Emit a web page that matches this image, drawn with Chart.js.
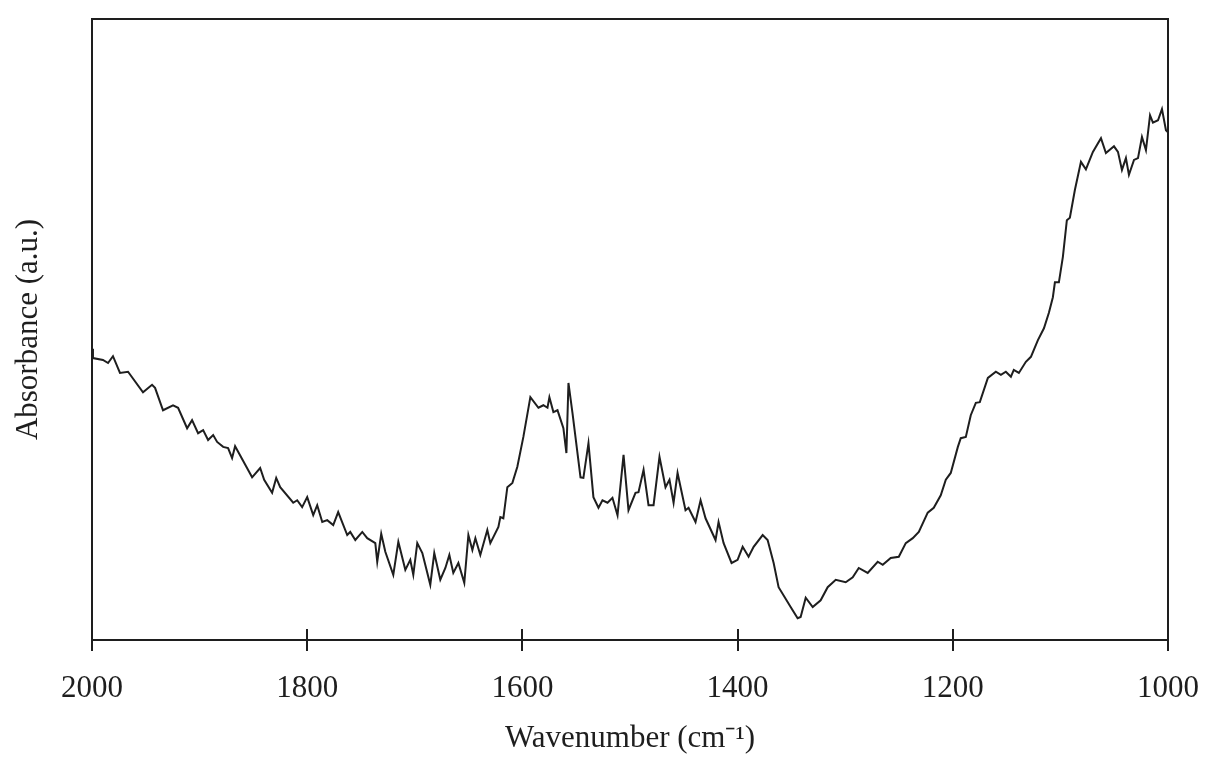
<!DOCTYPE html>
<html>
<head>
<meta charset="utf-8">
<script src="https://cdn.jsdelivr.net/npm/chart.js@4.4.0/dist/chart.umd.min.js"></script>
<style>
  html, body { margin:0; padding:0; background:#fff; }
  #wrap { width:1209px; height:757px; position:relative; }
</style>
</head>
<body>
<div id="wrap"><canvas id="chart"></canvas></div>
<script>
// FTIR spectrum, values (absorbance in arbitrary units, 0-100)
const wavenumber = [
  2000,1999.1,1989.8,1985.1,1980.5,1974.0,1966.5,1952.6,1944.2,1941.4,
  1934.0,1924.7,1920.0,1911.6,1907.0,1901.4,1896.7,1892.1,1887.4,1883.7,
  1878.1,1873.5,1869.8,1867.0,1851.2,1843.7,1840.0,1832.6,1828.8,1825.1,
  1813.0,1809.3,1804.7,1800.0,1794.4,1790.7,1786.0,1781.4,1775.8,1771.2,
  1762.8,1760.0,1755.3,1748.8,1744.2,1736.7,1734.9,1731.2,1727.4,1720.0,
  1715.3,1708.8,1704.2,1701.4,1697.7,1693.0,1685.6,1681.9,1676.3,1671.6,
  1667.9,1664.2,1659.5,1654.0,1650.2,1646.5,1643.7,1639.1,1632.6,1629.8,
  1622.3,1620.5,1617.7,1614.0,1609.3,1604.7,1599.1,1592.6,1585.1,1580.5,
  1576.7,1574.9,1571.2,1567.4,1561.9,1559.1,1557.2,1553.5,1546.0,1543.3,
  1538.6,1534.0,1529.3,1525.6,1520.9,1516.3,1511.6,1506.0,1501.4,1494.9,
  1492.1,1487.4,1482.8,1478.1,1472.6,1467.0,1463.3,1459.5,1455.8,1448.4,
  1445.6,1439.1,1434.4,1429.8,1420.5,1417.7,1413.0,1405.6,1400.0,1395.3,
  1389.8,1385.1,1376.7,1372.1,1366.5,1361.9,1350.7,1344.2,1341.4,1336.7,
  1330.2,1322.8,1316.3,1308.8,1299.5,1293.0,1287.4,1279.1,1269.8,1265.1,
  1257.7,1250.2,1243.7,1237.2,1231.6,1223.3,1217.7,1211.2,1206.5,1201.9,
  1195.3,1192.6,1187.9,1183.3,1178.6,1174.9,1167.4,1160.0,1155.3,1150.7,
  1146.0,1143.3,1138.6,1132.1,1127.4,1120.9,1115.3,1110.7,1107.0,1105.1,
  1101.4,1097.7,1094.0,1091.2,1086.5,1080.9,1076.3,1069.8,1062.3,1057.7,
  1050.2,1046.5,1042.8,1039.1,1036.3,1031.6,1027.9,1024.2,1020.5,1016.7,
  1014.0,1009.3,1005.6,1001.9,999.1,994.4
];
const absorbance = [
  46.9,45.4,45.1,44.6,45.7,43.0,43.2,39.9,41.1,40.6,
  37.0,37.8,37.4,34.1,35.4,33.3,33.8,32.2,33.0,31.9,
  31.1,30.9,29.3,31.2,26.2,27.7,25.8,23.7,26.1,24.6,
  22.1,22.5,21.4,23.0,20.1,21.7,19.0,19.3,18.5,20.6,
  16.9,17.4,16.1,17.4,16.4,15.6,12.6,17.1,14.2,10.5,
  15.8,11.3,12.9,10.5,15.6,14.0,8.9,14.0,9.7,11.6,
  13.7,10.8,12.4,9.2,16.9,14.5,16.4,13.7,17.7,15.6,
  18.2,19.8,19.6,24.6,25.3,27.9,32.7,39.1,37.4,37.8,
  37.4,39.1,36.7,37.0,34.1,30.1,41.4,36.6,26.2,26.1,
  31.7,23.0,21.3,22.5,22.1,22.9,20.1,29.8,20.9,23.7,
  23.8,27.4,21.7,21.7,29.5,24.6,25.8,22.1,26.9,20.9,
  21.3,19.0,22.5,19.6,16.1,19.0,15.6,12.4,12.9,15.0,
  13.4,15.0,16.9,16.1,12.4,8.5,5.3,3.5,3.7,6.8,
  5.3,6.4,8.5,9.7,9.3,10.1,11.6,10.8,12.6,12.1,
  13.2,13.4,15.6,16.4,17.4,20.5,21.3,23.3,25.8,26.9,
  31.1,32.5,32.7,36.2,38.2,38.3,42.2,43.2,42.7,43.2,
  42.4,43.5,43.0,44.8,45.6,48.3,50.2,52.7,55.2,57.6,
  57.6,61.7,67.6,68.0,72.5,77.0,75.8,78.6,80.8,78.4,
  79.5,78.6,75.7,77.6,74.9,77.3,77.6,81.0,78.9,84.5,
  83.3,83.7,85.5,82.1,81.6,83.7
];
const xTicks = [2000, 1800, 1600, 1400, 1200, 1000];

const INK = '#1e1e1e';
const SERIF = '"Liberation Serif", "Times New Roman", serif';

// frame round the plot and tick marks that cross the bottom axis
const framePlugin = {
  id: 'frame',
  afterDraw(chart) {
    const {ctx, chartArea: a, scales} = chart;
    ctx.save();
    ctx.strokeStyle = INK;
    ctx.lineWidth = 2;
    ctx.strokeRect(a.left, a.top, a.right - a.left, a.bottom - a.top);
    xTicks.forEach(v => {
      const px = Math.round(scales.x.getPixelForValue(v));
      ctx.beginPath();
      ctx.moveTo(px, a.bottom - 11);
      ctx.lineTo(px, a.bottom + 11);
      ctx.stroke();
    });
    ctx.restore();
  }
};

const points = wavenumber.map((w, i) => ({x: w, y: absorbance[i]}));

new Chart(document.getElementById('chart'), {
  type: 'line',
  data: { datasets: [{
    data: points,
    borderColor: INK,
    borderWidth: 2,
    pointRadius: 0,
    tension: 0,
    fill: false
  }]},
  options: {
    responsive: true,
    maintainAspectRatio: false,
    animation: false,
    layout: { padding: { top: 19, right: 41, left: 0, bottom: 0 } },
    plugins: { legend: { display: false }, tooltip: { enabled: false } },
    scales: {
      x: {
        type: 'linear', reverse: true, min: 1000, max: 2000,
        afterFit: s => { s.height = 117; s.paddingLeft = 0; s.paddingRight = 0; },
        afterBuildTicks: s => { s.ticks = xTicks.map(v => ({value: v})); },
        grid: { display: false },
        border: { display: false },
        ticks: { color: INK, padding: 22, maxRotation: 0, autoSkip: false,
                 callback: v => String(v),
                 font: { family: SERIF, size: 31 } },
        title: { display: true, text: 'Wavenumber (cm\u207B\u00B9)', color: INK,
                 padding: { top: 0, bottom: 0 },
                 font: { family: SERIF, size: 31 } }
      },
      y: {
        min: 0, max: 100,
        afterFit: s => { s.width = 92; },
        grid: { display: false },
        border: { display: false },
        ticks: { display: false },
        title: { display: true, text: 'Absorbance (a.u.)', color: INK,
                 padding: { top: 10, bottom: 0 },
                 font: { family: SERIF, size: 31 } }
      }
    }
  },
  plugins: [framePlugin]
});
</script>
</body>
</html>
